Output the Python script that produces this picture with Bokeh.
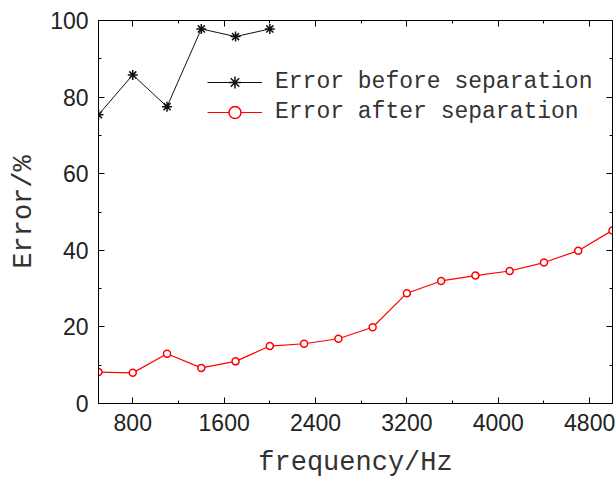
from bokeh.plotting import figure
from bokeh.models import Range1d, SingleIntervalTicker, LinearAxis, Legend, LegendItem, CustomJSTickFormatter
from bokeh.embed import file_html
from bokeh.resources import INLINE

freq_before = [500, 800, 1100, 1400, 1700, 2000]
err_before = [75.4, 85.8, 77.5, 97.8, 95.8, 97.8]
freq_after = [500, 800, 1100, 1400, 1700, 2000, 2300, 2600, 2900, 3200, 3500, 3800, 4100, 4400, 4700, 5000]
err_after = [8.2, 8.0, 13.0, 9.3, 11.0, 15.0, 15.6, 16.9, 19.9, 28.8, 32.0, 33.4, 34.6, 36.8, 39.9, 45.2]
label_before = "Error before separation"
label_after = "Error after separation"
x_label = "frequency/Hz"
y_label = "Error/%"

p = figure(width=615, height=482, output_backend="svg", toolbar_location=None,
           x_range=Range1d(500, 5000), y_range=Range1d(0, 100),
           min_border_left=98, min_border_top=20, min_border_right=3, min_border_bottom=79)
p.background_fill_color = "white"
p.border_fill_color = "white"
p.outline_line_color = "black"
p.outline_line_width = 1
p.grid.visible = False

xt = SingleIntervalTicker(interval=800, num_minor_ticks=2)
yt = SingleIntervalTicker(interval=20, num_minor_ticks=2)

def style_axis(ax, ticker, labels=True):
    ax.ticker = ticker
    ax.axis_line_color = "black"
    ax.major_tick_line_color = "black"
    ax.minor_tick_line_color = "black"
    ax.major_tick_in = 6
    ax.major_tick_out = 0
    ax.minor_tick_in = 3
    ax.minor_tick_out = 0
    if labels:
        ax.major_label_text_font = "Liberation Sans"
        ax.major_label_text_font_size = "23px"
        ax.major_label_text_color = "#222222"
        ax.axis_label_text_font = "Liberation Mono"
        ax.axis_label_text_font_size = "27px"
        ax.axis_label_text_font_style = "normal"
        ax.axis_label_text_color = "#333333"
    else:
        ax.formatter = CustomJSTickFormatter(code="return ''")
        ax.major_label_text_font_size = "1px"
        ax.major_label_standoff = 0

style_axis(p.xaxis[0], xt)
style_axis(p.yaxis[0], yt)
p.xaxis[0].axis_label = x_label
p.yaxis[0].axis_label = y_label
p.xaxis[0].major_label_standoff = 10
p.xaxis[0].axis_label_standoff = 14
p.yaxis[0].major_label_standoff = 10
p.yaxis[0].axis_label_standoff = 8

top = LinearAxis()
right = LinearAxis()
style_axis(top, SingleIntervalTicker(interval=800, num_minor_ticks=2), labels=False)
style_axis(right, SingleIntervalTicker(interval=20, num_minor_ticks=2), labels=False)
p.add_layout(top, "above")
p.add_layout(right, "right")

l1 = p.line(freq_before, err_before, line_color="#111111", line_width=1)
s1 = p.scatter(freq_before, err_before, marker="asterisk", size=10, line_color="#111111", line_width=1.5)
l2 = p.line(freq_after, err_after, line_color="#ff0000", line_width=1.2)
s2 = p.scatter(freq_after, err_after, marker="circle", size=7, line_color="#ff0000",
               fill_color="white", line_width=1.5)

legend = Legend(items=[LegendItem(label=label_before, renderers=[l1, s1]),
                       LegendItem(label=label_after, renderers=[l2, s2])],
                location=(109, 276))
legend.label_text_font = "Liberation Mono"
legend.label_text_font_size = "23px"
legend.label_text_color = "#333333"
legend.border_line_color = None
legend.background_fill_alpha = 0
legend.padding = 0
legend.margin = 0
legend.spacing = 0
legend.glyph_width = 55
legend.glyph_height = 30
legend.label_height = 30
legend.label_standoff = 13
p.add_layout(legend, "center")

open("out.html", "w").write(file_html(p, INLINE))
